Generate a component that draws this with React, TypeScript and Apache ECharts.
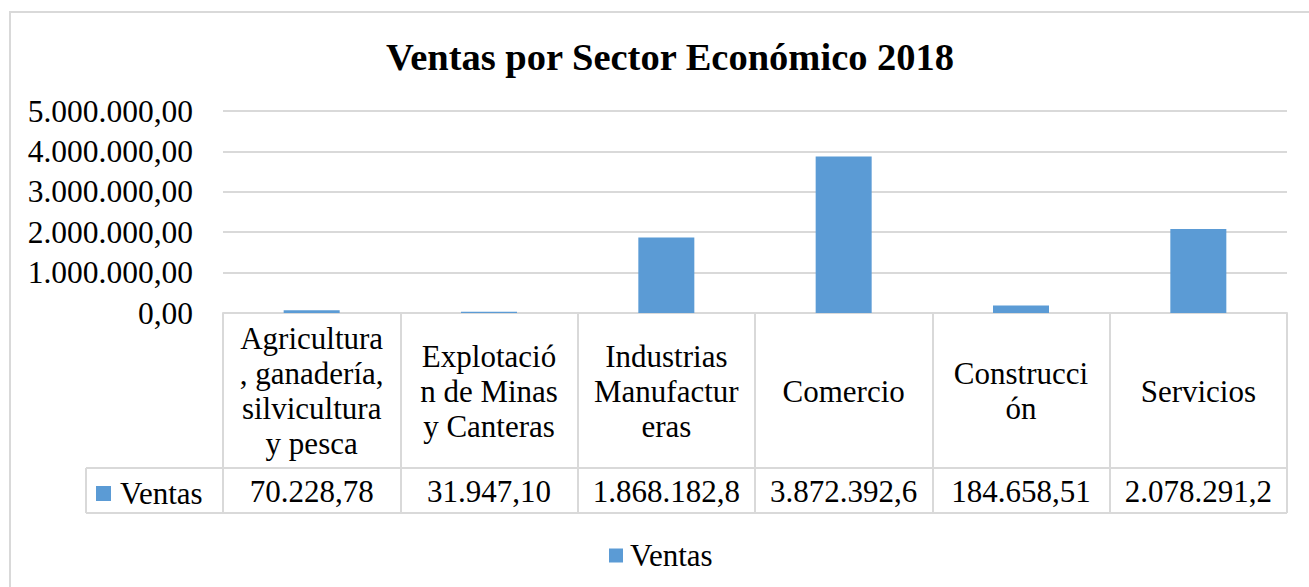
import React, { useEffect, useRef } from "react";
import * as echarts from "echarts";

const titleText = "Ventas por Sector Económico 2018";
const seriesName = "Ventas";
const categories = [
  "Agricultura, ganadería, silvicultura y pesca",
  "Explotación de Minas y Canteras",
  "Industrias Manufactureras",
  "Comercio",
  "Construcción",
  "Servicios",
];
const categoryLabels = [
  "Agricultura\n, ganadería,\nsilvicultura\ny pesca",
  "Explotació\nn de Minas\ny Canteras",
  "Industrias\nManufactur\neras",
  "Comercio",
  "Construcci\nón",
  "Servicios",
];
const ventas = [70228.78, 31947.1, 1868182.8, 3872392.6, 184658.51, 2078291.2];
const tableLabels = ["70.228,78", "31.947,10", "1.868.182,8", "3.872.392,6", "184.658,51", "2.078.291,2"];
const yMin = 0;
const yMax = 5000000;
const yInterval = 1000000;

const FONT = "'Liberation Serif', 'Times New Roman', serif";
const GRID_COLOR = "#d9d9d9";
const BAR_COLOR = "#5b9bd5";

function fmtAxis(v: number): string {
  const intPart = Math.round(v).toString().replace(/\B(?=(\d{3})+(?!\d))/g, ".");
  return intPart + ",00";
}

export default function App() {
  const ref = useRef<HTMLDivElement>(null);
  useEffect(() => {
    if (!ref.current) return;
    const chart = echarts.init(ref.current, undefined, { renderer: "svg" });
    const gridLeft = 223;
    const gridRight = 1287;
    const gridTop = 111;
    const axisY = 313;
    const rowY = 468;
    const tableBottom = 513;
    const keyLeft = 86;
    chart.setOption({
      animation: false,
      backgroundColor: "#ffffff",
      title: {
        text: titleText,
        left: 665,
        top: 32,
        textAlign: "center",
        textStyle: { fontFamily: FONT, fontSize: 38.5, fontWeight: "bold", color: "#000" },
      },
      legend: [
        {
          data: [seriesName],
          left: 604,
          top: 535,
          icon: "rect",
          itemWidth: 14,
          itemHeight: 14,
          itemGap: 5,
          textStyle: { fontFamily: FONT, fontSize: 31, color: "#000", padding: [0, 0, 0, 2] },
          selectedMode: false,
        },
        {
          data: [seriesName],
          left: 91,
          top: 473,
          icon: "rect",
          itemWidth: 15,
          itemHeight: 15,
          itemGap: 5,
          textStyle: { fontFamily: FONT, fontSize: 31, color: "#000", padding: [0, 0, 0, 4] },
          selectedMode: false,
        },
      ],
      grid: {
        left: gridLeft,
        right: 1309 - gridRight,
        top: gridTop,
        bottom: 587 - axisY,
        containLabel: false,
      },
      xAxis: [
        {
          type: "category",
          data: categories,
          position: "bottom",
          axisLine: { show: true, lineStyle: { color: GRID_COLOR, width: 2 } },
          axisTick: {
            show: true,
            length: tableBottom - axisY,
            lineStyle: { color: GRID_COLOR, width: 2 },
          },
          axisLabel: {
            interval: 0,
            formatter: (_v: string, i: number) => categoryLabels[i],
            fontFamily: FONT,
            fontSize: 31,
            lineHeight: 35,
            color: "#000",
            verticalAlign: "middle",
            margin: 78,
          },
        },
        {
          type: "category",
          data: categories,
          position: "bottom",
          offset: rowY - axisY,
          axisLine: { show: true, lineStyle: { color: GRID_COLOR, width: 2 } },
          axisTick: { show: false },
          axisLabel: {
            interval: 0,
            formatter: (_v: string, i: number) => tableLabels[i],
            fontFamily: FONT,
            fontSize: 31,
            color: "#000",
            verticalAlign: "middle",
            margin: 23,
          },
        },
      ],
      yAxis: {
        type: "value",
        min: yMin,
        max: yMax,
        interval: yInterval,
        axisLine: { show: false },
        axisTick: { show: false },
        splitLine: { show: true, lineStyle: { color: GRID_COLOR, width: 2 } },
        axisLabel: {
          formatter: (v: number) => fmtAxis(v),
          fontFamily: FONT,
          fontSize: 31.5,
          color: "#000",
          margin: 30,
        },
      },
      series: [
        {
          name: seriesName,
          type: "bar",
          data: ventas,
          xAxisIndex: 0,
          barWidth: 56,
          itemStyle: { color: BAR_COLOR },
        },
      ],
      graphic: [
        {
          type: "rect",
          shape: { x: 10, y: 12, width: 1400, height: 700 },
          style: { fill: "none", stroke: GRID_COLOR, lineWidth: 2 },
          silent: true,
        },
        {
          type: "line",
          shape: { x1: keyLeft, y1: tableBottom, x2: gridRight, y2: tableBottom },
          style: { stroke: GRID_COLOR, lineWidth: 2 },
          silent: true,
        },
        {
          type: "line",
          shape: { x1: keyLeft, y1: rowY, x2: gridLeft, y2: rowY },
          style: { stroke: GRID_COLOR, lineWidth: 2 },
          silent: true,
        },
        {
          type: "line",
          shape: { x1: keyLeft, y1: rowY, x2: keyLeft, y2: tableBottom },
          style: { stroke: GRID_COLOR, lineWidth: 2 },
          silent: true,
        },
      ],
    });
    return () => chart.dispose();
  }, []);
  return (
    <div
      ref={ref}
      style={{ position: "absolute", left: 0, top: 0, width: 1309, height: 587 }}
    />
  );
}
